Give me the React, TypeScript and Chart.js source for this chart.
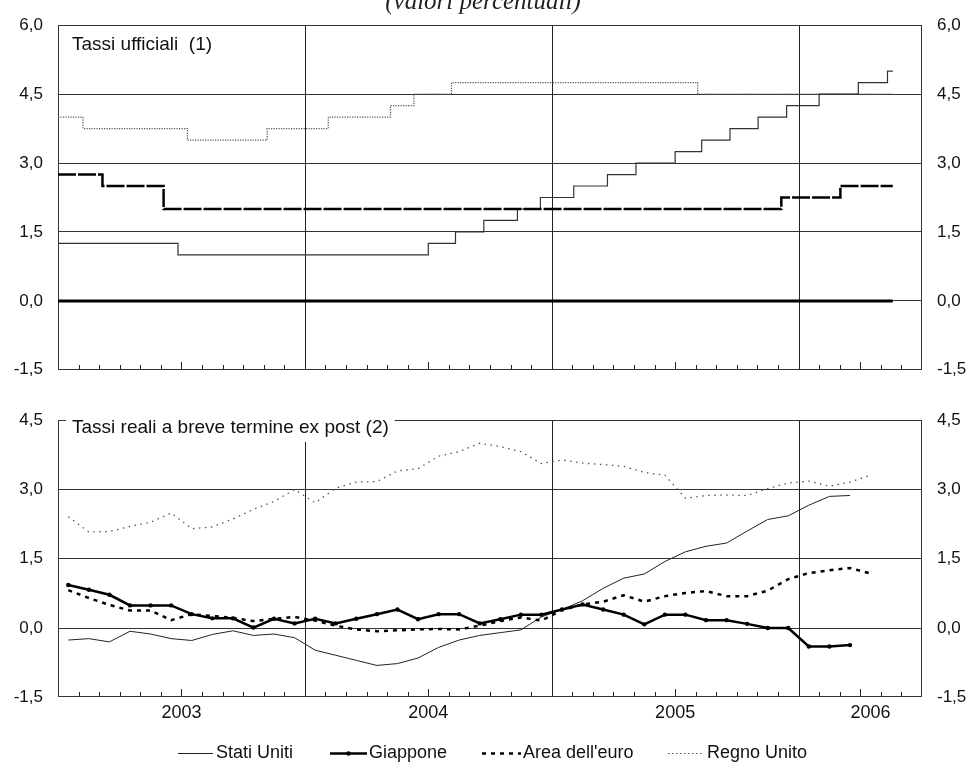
import React, { useEffect, useRef } from 'react';
import { Chart, registerables } from 'chart.js';

Chart.register(...registerables);

// ---------- axis / calendar settings ----------
const monthsShown = 42; // Jan 2003 .. Jun 2006
const yearLabels = ['2003', '2004', '2005', '2006'];
const yearLabelMonths = [6, 18, 30, 39.5];
const yearLineMonths = [12, 24, 36];
const midYearTickMonths = [6, 18, 30, 39];

const topMin = -1.5;
const topMax = 6.0;
const botMin = -1.5;
const botMax = 4.5;
const tickStep = 1.5;

// ---------- top panel: official rates (step changes) ----------
const officialEnd = '2006-05-19';

const usRateDates = ['2003-01-01', '2003-06-26', '2004-07-01', '2004-08-11', '2004-09-22', '2004-11-11', '2004-12-15', '2005-02-03', '2005-03-23', '2005-05-04', '2005-07-01', '2005-08-10', '2005-09-21', '2005-11-02', '2005-12-14', '2006-02-01', '2006-03-29', '2006-05-11'];
const usRateValues = [1.25, 1.0, 1.25, 1.5, 1.75, 2.0, 2.25, 2.5, 2.75, 3.0, 3.25, 3.5, 3.75, 4.0, 4.25, 4.5, 4.75, 5.0];

const jpRateDates = ['2003-01-01'];
const jpRateValues = [0.0];

const euRateDates = ['2003-01-01', '2003-03-06', '2003-06-05', '2005-12-06', '2006-03-02'];
const euRateValues = [2.75, 2.5, 2.0, 2.25, 2.5];

const ukRateDates = ['2003-01-01', '2003-02-07', '2003-07-10', '2003-11-06', '2004-02-05', '2004-05-06', '2004-06-10', '2004-08-05', '2005-08-04'];
const ukRateValues = [4.0, 3.75, 3.5, 3.75, 4.0, 4.25, 4.5, 4.75, 4.5];

// ---------- bottom panel: real short-term rates (monthly, from Jan 2003) ----------
const usReal = [-0.26, -0.23, -0.30, -0.07, -0.13, -0.23, -0.27, -0.14, -0.06, -0.16, -0.13, -0.21, -0.48, -0.59, -0.70, -0.81, -0.77, -0.65, -0.42, -0.26, -0.16, -0.10, -0.04, 0.24, 0.40, 0.59, 0.86, 1.08, 1.17, 1.44, 1.65, 1.77, 1.84, 2.10, 2.35, 2.43, 2.66, 2.85, 2.87];
const jpReal = [0.93, 0.83, 0.72, 0.49, 0.49, 0.49, 0.30, 0.21, 0.21, 0.01, 0.20, 0.10, 0.20, 0.10, 0.20, 0.30, 0.40, 0.19, 0.30, 0.30, 0.10, 0.19, 0.29, 0.29, 0.40, 0.51, 0.40, 0.29, 0.08, 0.29, 0.29, 0.17, 0.17, 0.09, 0.0, 0.0, -0.40, -0.40, -0.37];
const euReal = [0.82, 0.65, 0.50, 0.38, 0.38, 0.17, 0.30, 0.26, 0.22, 0.15, 0.20, 0.24, 0.16, 0.05, -0.03, -0.07, -0.05, -0.03, -0.02, -0.03, 0.05, 0.15, 0.23, 0.16, 0.39, 0.51, 0.57, 0.71, 0.57, 0.69, 0.76, 0.80, 0.69, 0.69, 0.81, 1.06, 1.19, 1.25, 1.30, 1.18];
const ukReal = [2.41, 2.08, 2.09, 2.20, 2.29, 2.49, 2.15, 2.19, 2.36, 2.57, 2.74, 3.00, 2.71, 3.03, 3.16, 3.17, 3.40, 3.45, 3.72, 3.82, 4.00, 3.93, 3.82, 3.56, 3.64, 3.57, 3.54, 3.50, 3.37, 3.31, 2.81, 2.87, 2.88, 2.87, 3.02, 3.14, 3.18, 3.07, 3.16, 3.31];

const seriesNames = ['Stati Uniti', 'Giappone', "Area dell'euro", 'Regno Unito'];
const topTitle = 'Tassi ufficiali  (1)';
const bottomTitle = 'Tassi reali a breve termine ex post (2)';
const mainTitle = '(valori percentuali)';

// ---------- helpers ----------
const FONT = '"Liberation Sans", Arial, sans-serif';

function toMonth(d: string): number {
  const [y, m, dd] = d.split('-').map(Number);
  const dim = new Date(y, m, 0).getDate();
  return (y - 2003) * 12 + (m - 1) + (dd - 1) / dim;
}

function stepPoints(dates: string[], values: number[], end: string) {
  const pts = dates.map((d, i) => ({ x: toMonth(d), y: values[i] }));
  pts.push({ x: toMonth(end), y: values[values.length - 1] });
  return pts;
}

function monthlyPoints(values: number[]) {
  return values.map((v, i) => ({ x: i + 0.5, y: v }));
}

const fmt = (v: any) => Number(v).toFixed(1).replace('.', ',');

function yAxes(min: number, max: number) {
  const tickOpts = { stepSize: tickStep, callback: fmt, padding: 15, color: '#111', font: { size: 17, family: FONT } };
  return {
    y: {
      position: 'left', min, max,
      ticks: tickOpts,
      grid: {
        drawTicks: false, lineWidth: 1,
        color: (c: any) => (c.tick && (c.tick.value <= min + 1e-9 || c.tick.value >= max - 1e-9)) ? 'rgba(0,0,0,0)' : '#333',
      },
      border: { display: false },
      afterFit: (s: any) => { s.width = 58; },
    },
    y2: {
      position: 'right', min, max,
      ticks: tickOpts,
      grid: { display: false, drawTicks: false },
      border: { display: false },
      afterFit: (s: any) => { s.width = 46; },
    },
  };
}

function xAxis(height: number) {
  return {
    type: 'linear', min: 0, max: monthsShown,
    ticks: { display: false },
    grid: { display: false, drawTicks: false },
    border: { display: false },
    afterFit: (s: any) => { s.height = height; },
  };
}

function decorPlugin(title: string, titleY: number, withBox: boolean, xLabels: boolean, titleTop: boolean) {
  return {
    id: 'decor',
    beforeDatasetsDraw(chart: any) {
      const { ctx, chartArea: a, scales } = chart;
      const xs = scales.x;
      const L = Math.round(a.left), R = Math.round(a.right), T = Math.round(a.top), B = Math.round(a.bottom);
      ctx.save();
      ctx.lineWidth = 1;
      ctx.strokeStyle = '#222';
      ctx.beginPath();
      for (const m of yearLineMonths) {
        const px = Math.round(xs.getPixelForValue(m)) + 0.5;
        ctx.moveTo(px, T);
        ctx.lineTo(px, B);
      }
      for (let m = 1; m < monthsShown; m++) {
        const px = Math.round(xs.getPixelForValue(m)) + 0.5;
        const len = midYearTickMonths.includes(m) ? 8 : 5;
        ctx.moveTo(px, B);
        ctx.lineTo(px, B - len);
      }
      ctx.stroke();
      ctx.strokeStyle = '#333';
      ctx.strokeRect(L + 0.5, T + 0.5, R - L - 1, B - T - 1);

      ctx.font = `19px ${FONT}`;
      ctx.textBaseline = 'middle';
      ctx.textAlign = 'left';
      const w = ctx.measureText(title).width;
      if (withBox) {
        ctx.fillStyle = '#fff';
        ctx.fillRect(L + 8, titleY - 14, w + 12, 28);
      }
      ctx.fillStyle = '#111';
      ctx.fillText(title, L + 14, titleY);

      if (xLabels) {
        ctx.font = `18px ${FONT}`;
        ctx.textAlign = 'center';
        yearLabels.forEach((lab, i) => {
          ctx.fillText(lab, xs.getPixelForValue(yearLabelMonths[i]), B + 16);
        });
      }
      if (titleTop) {
        ctx.font = 'italic 25px "Liberation Serif", "Times New Roman", serif';
        ctx.textAlign = 'center';
        ctx.textBaseline = 'alphabetic';
        ctx.fillStyle = '#222';
        ctx.fillText(mainTitle, 483, 9);
      }
      ctx.restore();
    },
  };
}

const legendPlugin = {
  id: 'customLegend',
  afterDraw(chart: any) {
    const { ctx } = chart;
    const y = 358;
    ctx.save();
    ctx.font = `18px ${FONT}`;
    ctx.textBaseline = 'middle';
    ctx.textAlign = 'left';
    const items = [
      { x0: 178, x1: 213, tx: 216, color: '#222', width: 1, dash: [] as number[], marker: false },
      { x0: 330, x1: 367, tx: 369, color: '#000', width: 2.5, dash: [] as number[], marker: true },
      { x0: 482, x1: 521, tx: 523, color: '#000', width: 2.5, dash: [4, 5], marker: false },
      { x0: 668, x1: 702, tx: 707, color: '#555', width: 1.2, dash: [1.5, 2.5], marker: false },
    ];
    items.forEach((it, i) => {
      ctx.beginPath();
      ctx.setLineDash(it.dash);
      ctx.strokeStyle = it.color;
      ctx.lineWidth = it.width;
      ctx.moveTo(it.x0, y + 0.5);
      ctx.lineTo(it.x1, y + 0.5);
      ctx.stroke();
      ctx.setLineDash([]);
      if (it.marker) {
        ctx.beginPath();
        ctx.fillStyle = '#000';
        ctx.arc((it.x0 + it.x1) / 2, y + 0.5, 2.2, 0, Math.PI * 2);
        ctx.fill();
      }
      ctx.fillStyle = '#111';
      ctx.fillText(seriesNames[i], it.tx, y);
    });
    ctx.restore();
  },
};

export default function App() {
  const topRef = useRef<HTMLCanvasElement>(null);
  const botRef = useRef<HTMLCanvasElement>(null);

  useEffect(() => {
    document.body.style.margin = '0';
    Chart.defaults.font.family = FONT;
    Chart.defaults.color = '#111';

    const common = {
      responsive: false,
      animation: false,
      plugins: { legend: { display: false }, tooltip: { enabled: false } },
      elements: { line: { tension: 0 }, point: { radius: 0 } },
    };

    const top = new Chart(topRef.current!, {
      type: 'line',
      data: {
        datasets: [
          { label: seriesNames[1], data: stepPoints(jpRateDates, jpRateValues, officialEnd), stepped: 'before', borderColor: '#000', borderWidth: 3, pointRadius: 0, yAxisID: 'y' },
          { label: seriesNames[2], data: stepPoints(euRateDates, euRateValues, officialEnd), stepped: 'before', borderColor: '#000', borderWidth: 2.5, borderDash: [18, 2], pointRadius: 0, yAxisID: 'y' },
          { label: seriesNames[0], data: stepPoints(usRateDates, usRateValues, officialEnd), stepped: 'before', borderColor: '#333', borderWidth: 1.2, pointRadius: 0, yAxisID: 'y' },
          { label: seriesNames[3], data: stepPoints(ukRateDates, ukRateValues, officialEnd), stepped: 'before', borderColor: '#555', borderWidth: 1.2, borderDash: [1.2, 1.3], pointRadius: 0, yAxisID: 'y' },
        ],
      } as any,
      options: {
        ...common,
        layout: { padding: { top: 20.7, bottom: 0, left: 0, right: 0 } },
        scales: { x: xAxis(18), ...yAxes(topMin, topMax) } as any,
      } as any,
      plugins: [decorPlugin(topTitle, 44.7, false, false, true)],
    });

    const bot = new Chart(botRef.current!, {
      type: 'line',
      data: {
        datasets: [
          { label: seriesNames[1], data: monthlyPoints(jpReal), borderColor: '#000', borderWidth: 2.5, pointRadius: 2.2, pointBackgroundColor: '#000', pointBorderWidth: 0, yAxisID: 'y' },
          { label: seriesNames[2], data: monthlyPoints(euReal), borderColor: '#000', borderWidth: 2.5, borderDash: [4, 5], pointRadius: 0, yAxisID: 'y' },
          { label: seriesNames[0], data: monthlyPoints(usReal), borderColor: '#222', borderWidth: 1, pointRadius: 0, yAxisID: 'y' },
          { label: seriesNames[3], data: monthlyPoints(ukReal), borderColor: '#555', borderWidth: 1.3, borderDash: [1.5, 4.5], pointRadius: 0, yAxisID: 'y' },
        ],
      } as any,
      options: {
        ...common,
        layout: { padding: { top: 14.3, bottom: 0, left: 0, right: 0 } },
        scales: { x: xAxis(64.7), ...yAxes(botMin, botMax) } as any,
      } as any,
      plugins: [decorPlugin(bottomTitle, 33, true, true, false), legendPlugin],
    });

    return () => { top.destroy(); bot.destroy(); };
  }, []);

  return (
    <div style={{ position: 'relative', width: 968, height: 762, background: '#fff', overflow: 'hidden' }}>
      <canvas ref={topRef} width={968} height={395} style={{ position: 'absolute', left: 0, top: 0, display: 'block' }} />
      <canvas ref={botRef} width={968} height={367} style={{ position: 'absolute', left: 0, top: 395, display: 'block' }} />
    </div>
  );
}
